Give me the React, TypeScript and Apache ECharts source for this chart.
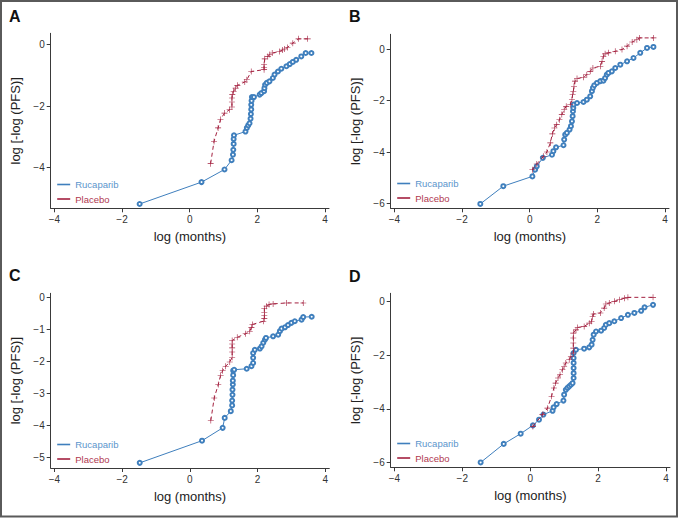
import React, { useEffect, useRef } from "react";
import * as echarts from "echarts";

// ---------- data (log months, log[-log(PFS)]) ----------
const aRucX = [-1.48, 0.35, 1.03, 1.24, 1.28, 1.29, 1.30, 1.30, 1.31, 1.65, 1.69, 1.73, 1.77, 1.80, 1.81, 1.82, 1.82, 1.83, 1.84, 1.90, 2.07, 2.12, 2.20, 2.21, 2.23, 2.28, 2.36, 2.46, 2.51, 2.61, 2.71, 2.86, 2.96, 3.05, 3.15, 3.30, 3.43, 3.60];
const aRucY = [-5.18, -4.47, -4.06, -3.76, -3.58, -3.42, -3.23, -3.07, -2.95, -2.83, -2.71, -2.63, -2.56, -2.41, -2.26, -2.11, -1.96, -1.83, -1.71, -1.71, -1.63, -1.58, -1.52, -1.42, -1.31, -1.25, -1.20, -1.09, -0.98, -0.88, -0.79, -0.71, -0.64, -0.57, -0.50, -0.39, -0.28, -0.28];
const aPlaX = [0.62, 0.72, 0.84, 0.91, 1.03, 1.18, 1.25, 1.25, 1.25, 1.26, 1.30, 1.36, 1.41, 1.63, 1.69, 1.82, 2.20, 2.20, 2.20, 2.22, 2.31, 2.37, 2.44, 2.66, 2.74, 2.81, 2.89, 3.05, 3.22, 3.49];
const aPlaY = [-3.87, -3.15, -2.71, -2.44, -2.23, -2.12, -2.03, -1.87, -1.74, -1.63, -1.52, -1.42, -1.33, -1.22, -1.15, -0.88, -0.82, -0.75, -0.66, -0.47, -0.39, -0.33, -0.28, -0.23, -0.18, -0.15, -0.10, 0.04, 0.18, 0.18];

const bRucX = [-1.46, -0.78, 0.08, 0.16, 0.21, 0.39, 0.66, 0.70, 0.78, 1.00, 1.02, 1.05, 1.10, 1.18, 1.22, 1.25, 1.27, 1.28, 1.29, 1.30, 1.40, 1.59, 1.69, 1.79, 1.84, 1.87, 1.91, 1.99, 2.09, 2.18, 2.23, 2.28, 2.33, 2.43, 2.53, 2.68, 2.88, 3.07, 3.27, 3.47, 3.66];
const bRucY = [-6.01, -5.32, -4.94, -4.68, -4.55, -4.22, -4.10, -3.96, -3.81, -3.73, -3.51, -3.32, -3.25, -3.12, -2.99, -2.80, -2.60, -2.41, -2.28, -2.15, -2.09, -2.05, -1.96, -1.83, -1.63, -1.50, -1.40, -1.31, -1.24, -1.22, -1.12, -0.99, -0.92, -0.86, -0.73, -0.60, -0.47, -0.34, -0.14, 0.05, 0.09];
const bPlaX = [0.08, 0.21, 0.41, 0.51, 0.61, 0.67, 0.73, 0.80, 0.88, 0.95, 1.02, 1.08, 1.20, 1.25, 1.27, 1.29, 1.31, 1.34, 1.40, 1.59, 1.69, 1.79, 1.87, 2.09, 2.14, 2.18, 2.23, 2.33, 2.53, 2.73, 2.88, 3.03, 3.17, 3.25, 3.66];
const bPlaY = [-4.68, -4.46, -4.16, -3.99, -3.64, -3.29, -3.06, -2.93, -2.74, -2.54, -2.35, -2.22, -2.15, -1.96, -1.76, -1.63, -1.44, -1.24, -1.14, -1.09, -0.99, -0.86, -0.73, -0.66, -0.47, -0.27, -0.18, -0.14, -0.08, -0.01, 0.12, 0.28, 0.37, 0.44, 0.44];

const cRucX = [-1.48, 0.36, 0.97, 1.03, 1.21, 1.25, 1.25, 1.26, 1.26, 1.27, 1.27, 1.28, 1.28, 1.31, 1.68, 1.82, 1.87, 1.87, 1.87, 1.92, 2.07, 2.12, 2.17, 2.22, 2.25, 2.46, 2.61, 2.66, 2.71, 2.81, 2.90, 3.00, 3.10, 3.30, 3.35, 3.60];
const cRucY = [-5.16, -4.47, -4.07, -3.76, -3.55, -3.37, -3.22, -3.04, -2.88, -2.72, -2.60, -2.43, -2.29, -2.26, -2.23, -2.15, -2.05, -1.89, -1.74, -1.64, -1.60, -1.53, -1.42, -1.32, -1.27, -1.22, -1.17, -1.06, -0.98, -0.94, -0.87, -0.80, -0.75, -0.70, -0.62, -0.61];
const cPlaX = [0.62, 0.72, 0.84, 0.91, 0.97, 1.06, 1.18, 1.25, 1.25, 1.25, 1.25, 1.25, 1.40, 1.65, 1.77, 1.82, 1.85, 2.17, 2.20, 2.20, 2.20, 2.20, 2.27, 2.34, 2.46, 2.86, 3.35];
const cPlaY = [-3.84, -3.14, -2.72, -2.43, -2.29, -2.15, -2.02, -1.87, -1.71, -1.58, -1.46, -1.35, -1.25, -1.14, -1.06, -0.94, -0.85, -0.75, -0.67, -0.57, -0.47, -0.36, -0.28, -0.23, -0.21, -0.18, -0.18];

const dRucX = [-1.46, -0.78, -0.28, 0.08, 0.26, 0.39, 0.66, 0.69, 0.78, 0.98, 1.00, 1.05, 1.10, 1.15, 1.20, 1.25, 1.28, 1.28, 1.28, 1.28, 1.28, 1.28, 1.35, 1.59, 1.74, 1.81, 1.84, 1.87, 1.94, 2.09, 2.18, 2.23, 2.33, 2.48, 2.68, 2.88, 3.07, 3.27, 3.37, 3.62];
const dRucY = [-5.99, -5.30, -4.92, -4.61, -4.40, -4.21, -4.07, -3.94, -3.82, -3.69, -3.47, -3.29, -3.22, -3.16, -3.10, -3.04, -2.85, -2.67, -2.48, -2.29, -2.11, -1.92, -1.80, -1.76, -1.71, -1.61, -1.43, -1.24, -1.12, -1.09, -0.99, -0.87, -0.81, -0.74, -0.62, -0.50, -0.43, -0.35, -0.22, -0.13];
const dPlaX = [0.08, 0.36, 0.51, 0.63, 0.70, 0.75, 0.82, 0.88, 0.95, 1.00, 1.05, 1.15, 1.20, 1.27, 1.27, 1.27, 1.27, 1.27, 1.35, 1.40, 1.59, 1.74, 1.81, 1.84, 1.87, 2.07, 2.18, 2.23, 2.33, 2.48, 2.63, 2.78, 2.88, 3.62];
const dPlaY = [-4.65, -4.21, -3.97, -3.53, -3.22, -3.04, -2.85, -2.73, -2.54, -2.42, -2.29, -2.17, -2.04, -1.92, -1.74, -1.55, -1.36, -1.18, -1.06, -0.97, -0.93, -0.81, -0.74, -0.56, -0.47, -0.43, -0.25, -0.10, -0.06, 0.0, 0.06, 0.12, 0.15, 0.15];

const panelLetters = ["A", "B", "C", "D"];
const xTicks = [-4, -2, 0, 2, 4];
const yTicksA = [-4, -2, 0];
const yTicksB = [-6, -4, -2, 0];
const yTicksC = [-5, -4, -3, -2, -1, 0];
const yTicksD = [-6, -4, -2, 0];
const seriesNames = ["Rucaparib", "Placebo"];

const BLUE = "#3f7fbd";
const RED = "#a3203f";
const SANS = '"Liberation Sans", Arial, sans-serif';

const zip = (xs: number[], ys: number[]) => xs.map((x, i) => [x, ys[i]]);
const fmt = (v: number) => (v < 0 ? "\u2212" + Math.abs(v) : String(v));

const panels = [
  { letter: panelLetters[0], grid: { left: 50.7, top: 33.3, width: 278.3, height: 175 }, yMin: -5.32, yMax: 0.36, yTicks: yTicksA, ruc: zip(aRucX, aRucY), pla: zip(aPlaX, aPlaY), lx: 9, ly: 8, legTop: 179.5 },
  { letter: panelLetters[1], grid: { left: 390.7, top: 34.3, width: 278.3, height: 174 }, yMin: -6.18, yMax: 0.58, yTicks: yTicksB, ruc: zip(bRucX, bRucY), pla: zip(bPlaX, bPlaY), lx: 349, ly: 8, legTop: 178.5 },
  { letter: panelLetters[2], grid: { left: 50.7, top: 293.3, width: 278.6, height: 174.7 }, yMin: -5.32, yMax: 0.12, yTicks: yTicksC, ruc: zip(cRucX, cRucY), pla: zip(cPlaX, cPlaY), lx: 9, ly: 267, legTop: 439.5 },
  { letter: panelLetters[3], grid: { left: 390.7, top: 293.3, width: 279.3, height: 174 }, yMin: -6.17, yMax: 0.3, yTicks: yTicksD, ruc: zip(dRucX, dRucY), pla: zip(dPlaX, dPlaY), lx: 349, ly: 268, legTop: 438.5 },
];

const PLUS = "path://M-1,-0.1H1V0.1H-1Z M-0.1,-1H0.1V1H-0.1Z";

export default function App() {
  const ref = useRef<HTMLDivElement>(null);
  useEffect(() => {
    if (!ref.current) return;
    const chart = echarts.init(ref.current, undefined, { renderer: "svg" });
    const axisLine = { show: true, onZero: false, lineStyle: { color: "#3a3a3a", width: 1 } };
    const option: any = {
      animation: false,
      backgroundColor: "#ffffff",
      grid: panels.map((p) => ({ ...p.grid, containLabel: false })),
      title: panels.map((p) => ({
        text: p.letter,
        left: p.lx,
        top: p.ly,
        padding: 0,
        textStyle: { fontFamily: SANS, fontSize: 16, fontWeight: "bold", color: "#111" },
      })),
      legend: panels.map((p) => ({
        orient: "vertical",
        left: p.grid.left + 6.5,
        top: p.legTop,
        padding: 0,
        itemGap: 4.5,
        itemWidth: 13,
        itemHeight: 1.6,
        icon: "rect",
        selectedMode: false,
        itemStyle: { borderWidth: 0 },
        textStyle: { fontFamily: SANS, fontSize: 9.5 },
        data: [
          { name: seriesNames[0], textStyle: { color: "#5b95cc" } },
          { name: seriesNames[1], textStyle: { color: "#b0384f" } },
        ],
      })),
      xAxis: panels.map((p, i) => ({
        type: "value",
        gridIndex: i,
        min: -4.11,
        max: 4.12,
        name: "log (months)",
        nameLocation: "middle",
        nameGap: 22,
        nameTextStyle: { fontFamily: SANS, fontSize: 13, color: "#222" },
        axisLine,
        axisTick: { show: true, length: 4, customValues: xTicks, lineStyle: { color: "#3a3a3a" } },
        axisLabel: { customValues: xTicks, formatter: fmt, margin: 6, fontFamily: SANS, fontSize: 10, color: "#333" },
        splitLine: { show: false },
      })),
      yAxis: panels.map((p, i) => ({
        type: "value",
        gridIndex: i,
        min: p.yMin,
        max: p.yMax,
        name: "log [-log (PFS)]",
        nameLocation: "middle",
        nameGap: 29,
        nameTextStyle: { fontFamily: SANS, fontSize: 13, color: "#222" },
        axisLine,
        axisTick: { show: true, length: 4, customValues: p.yTicks, lineStyle: { color: "#3a3a3a" } },
        axisLabel: { customValues: p.yTicks, formatter: fmt, margin: 6, fontFamily: SANS, fontSize: 10, color: "#333" },
        splitLine: { show: false },
      })),
      series: panels.flatMap((p, i) => [
        {
          name: seriesNames[0],
          type: "line",
          xAxisIndex: i,
          yAxisIndex: i,
          data: p.ruc,
          symbol: "emptyCircle",
          symbolSize: 4,
          showAllSymbol: true,
          lineStyle: { color: BLUE, width: 1 },
          itemStyle: { color: BLUE, borderColor: BLUE, borderWidth: 0.9 },
          z: 3,
        },
        {
          name: seriesNames[1],
          type: "line",
          xAxisIndex: i,
          yAxisIndex: i,
          data: p.pla,
          symbol: PLUS,
          symbolSize: 6,
          showAllSymbol: true,
          lineStyle: { color: RED, width: 1, type: [4, 3] },
          itemStyle: { color: RED, borderWidth: 0 },
          z: 4,
        },
      ]),
      graphic: [
        {
          type: "rect",
          shape: { x: 1, y: 1, width: 676, height: 515.5 },
          style: { fill: "none", stroke: "#5a5a5a", lineWidth: 2 },
          silent: true,
          z: 100,
        },
      ],
    };
    chart.setOption(option);
    return () => chart.dispose();
  }, []);
  return (
    <div
      ref={ref}
      style={{ position: "fixed", left: 0, top: 0, width: 678, height: 518, background: "#fff" }}
    />
  );
}
